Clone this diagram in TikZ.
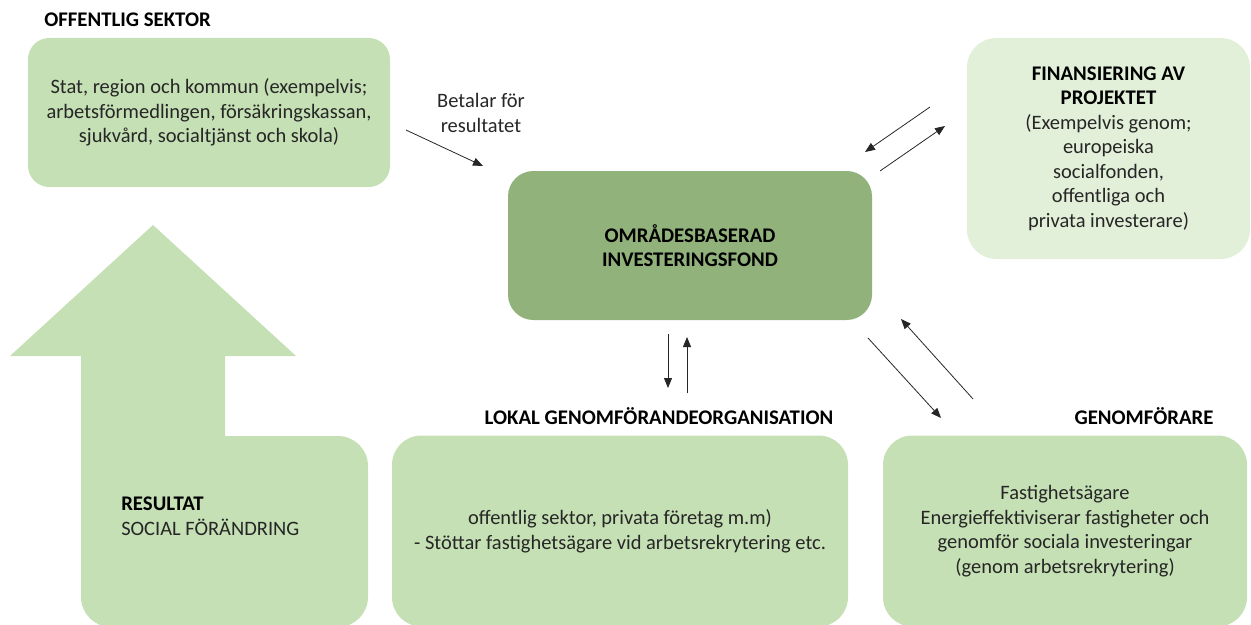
\documentclass[tikz,border=0pt]{standalone}
\usepackage{fontspec}
\setmainfont{Carlito}
\usetikzlibrary{arrows.meta}
\definecolor{lightg}{HTML}{C5E0B4}
\definecolor{darkg}{HTML}{92B27C}
\definecolor{paleg}{HTML}{E2F0D9}
\definecolor{txt}{HTML}{262626}
\newcommand{\regf}{\fontsize{15.35}{18.4}\selectfont}
\newcommand{\boldf}{\fontsize{15.6}{18.4}\selectfont\bfseries}
\tikzset{
  box/.style={fill=#1, draw=none, rounded corners=22pt, align=center, text=txt,
    font=\regf, inner sep=0pt},
  head/.style={font=\boldf, text=black, inner sep=0pt, align=center},
  body/.style={font=\regf, text=txt, inner sep=0pt, align=center},
  flow/.style={draw=black!85, line width=0.6pt, -{Triangle[length=7.5pt,width=6pt]}},
}
\begin{document}
\begin{tikzpicture}[x=0.75pt,y=-0.75pt]
\useasboundingbox (0,0) rectangle (1251,624);
% big arrow (result)
\fill[lightg] (153,225) -- (296,356) -- (225,356) -- (225,500) -- (81,500) -- (81,356) -- (10,356) -- cycle;
\fill[lightg, rounded corners=22.5pt] (81,436) rectangle (368,627);
\node[anchor=west, align=left, inner sep=0pt, text=txt, font=\regf] (res) at (121,516)
  {{\boldf\color{black}RESULTAT}\\SOCIAL FÖRÄNDRING};
% boxes
\node[box=lightg, minimum width=271.5pt, minimum height=111.75pt, rounded corners=16pt] (off) at (209,112.5)
  {Stat, region och kommun (exempelvis;\\arbetsförmedlingen, försäkringskassan,\\sjukvård, socialtjänst och skola)};
\node[head, anchor=west] (offh) at (44,20) {OFFENTLIG SEKTOR};
\node[box=darkg, minimum width=273pt, minimum height=111.75pt, rounded corners=19pt, font=\boldf, text=black] (fond) at (690,245.5)
  {OMRÅDESBASERAD\\INVESTERINGSFOND};
\node[box=paleg, minimum width=212.25pt, minimum height=165.75pt] (fin) at (1108.5,148.5)
  {{\boldf\color{black}FINANSIERING AV}\\{\boldf\color{black}PROJEKTET}\\(Exempelvis genom;\\europeiska\\socialfonden,\\offentliga och\\privata investerare)};
\node[box=lightg, minimum width=342pt, minimum height=143.25pt] (lok) at (620,531)
  {offentlig sektor, privata företag m.m)\\- Stöttar fastighetsägare vid arbetsrekrytering etc.};
\node[head] (lokh) at (659,416) {LOKAL GENOMFÖRANDEORGANISATION};
\node[box=lightg, minimum width=273pt, minimum height=143.25pt] (gen) at (1065,531)
  {Fastighetsägare\\Energieffektiviserar fastigheter och\\genomför sociala investeringar\\(genom arbetsrekrytering)};
\node[head] (genh) at (1144,416) {GENOMFÖRARE};
\node[body] (bet) at (481,113) {Betalar för\\resultatet};
% arrow endpoints
\coordinate (a1s) at (406,130); \coordinate (a1e) at (483,166);
\coordinate (a2s) at (930,107); \coordinate (a2e) at (865,152);
\coordinate (a3s) at (880,171); \coordinate (a3e) at (945,126);
\coordinate (a4s) at (668,334); \coordinate (a4e) at (668,388);
\coordinate (a5s) at (687,393); \coordinate (a5e) at (687,337);
\coordinate (a6s) at (868,338); \coordinate (a6e) at (941,418);
\coordinate (a7s) at (973,399); \coordinate (a7e) at (901,319);
\foreach \i in {1,...,7} {\draw[flow] (a\i s) -- (a\i e);}
\end{tikzpicture}
\end{document}
